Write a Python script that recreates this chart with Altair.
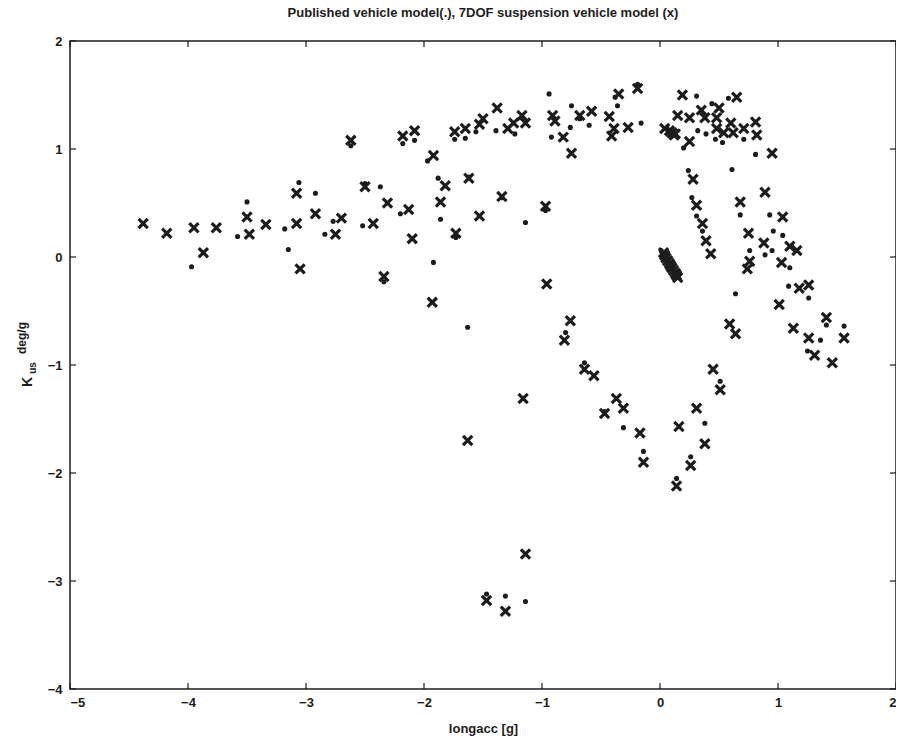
import altair as alt
import pandas as pd

# Published vehicle model (dots)
dot_x = [-3.97, -3.50, -3.58, -3.18, -3.15, -3.06, -2.92, -2.62, -2.18, -2.08, -1.74, -1.65,
         -1.56, -1.97, -2.50, -2.37, -1.88, -1.62, -1.86, -2.20, -2.77, -2.84, -2.52, -1.73,
         -2.34, -1.92, -1.39, -1.23, -0.94, -0.92, -0.76, -0.75, -0.60, -0.68, -0.36, -0.38,
         -0.19, -0.16, -1.34, -0.97, -1.14, 0.31, 0.58, 0.44, 0.32, 0.39, 0.47, 0.53, 0.71,
         0.20, 0.81, 0.06, 0.11, 0.24, 0.61, 0.27, 0.31, 0.68, 0.93, 0.36, 0.96, 1.04, 0.76,
         0.95, 0.89, 1.10, 1.09, 1.26, 0.64, 1.41, 1.56, 1.36, 1.25, -1.63, -0.80, -0.64,
         -0.31, -0.14, 0.14, 0.26, 0.38, 0.51, -1.47, -1.31, -1.14, 0.01, 0.03, 0.06, 0.08,
         0.11, 0.14, -0.47, 0.02, 0.045, 0.07, 0.095, 0.12]
dot_y = [-0.09, 0.51, 0.19, 0.26, 0.07, 0.69, 0.59, 1.03, 1.05, 1.08, 1.09, 1.10,
         1.16, 0.89, 0.68, 0.65, 0.73, 0.74, 0.35, 0.40, 0.33, 0.21, 0.29, 0.18,
         -0.23, -0.05, 1.17, 1.14, 1.51, 1.11, 1.20, 1.40, 1.22, 1.28, 1.40, 1.48,
         1.60, 1.24, 0.55, 0.43, 0.32, 1.49, 1.47, 1.42, 1.17, 1.14, 1.09, 1.06, 1.09,
         1.01, 0.95, 1.19, 1.13, 0.80, 0.81, 0.55, 0.38, 0.39, 0.39, 0.24, 0.24, 0.20, 0.06,
         0.06, 0.02, -0.10, -0.27, -0.38, -0.34, -0.63, -0.64, -0.77, -0.87, -0.65, -0.70, -0.98,
         -1.58, -1.80, -2.05, -1.85, -1.54, -1.15, -3.12, -3.14, -3.19, 0.06, 0.01, -0.04, -0.08,
         -0.13, -0.17, -1.43, 0.035, -0.015, -0.06, -0.105, -0.15]

# 7DOF suspension vehicle model (x markers)
cross_x = [-4.38, -4.18, -3.95, -3.87, -3.76, -3.50, -3.48, -3.34, -3.08, -3.08, -3.05, -2.92,
           -2.75, -2.70, -2.62, -2.50, -2.43, -2.31, -2.34, -2.18, -2.08, -2.13, -2.10, -1.92,
           -1.93, -1.82, -1.86, -1.74, -1.65, -1.53, -1.50, -1.62, -1.73, -1.53, -1.38, -1.29,
           -1.24, -1.17, -1.14, -1.34, -0.97, -0.96, -0.91, -0.89, -0.82, -0.75, -0.68, -0.58,
           -0.43, -0.39, -0.41, -0.35, -0.19, -0.27, 0.08, 0.04, 0.13, 0.15, 0.19, 0.25, 0.35,
           0.38, 0.50, 0.48, 0.48, 0.65, 0.60, 0.62, 0.54, 0.71, 0.81, 0.82, 0.25, 0.95, 0.28,
           0.89, 0.31, 0.68, 0.36, 1.04, 0.39, 0.75, 0.88, 1.10, 1.16, 0.43, 0.76, 0.74, 1.03,
           1.18, 1.26, 1.01, 1.41, 1.13, 1.26, 1.56, 1.31, 1.46, 0.59, 0.64, -0.76, -0.81,
           -0.64, -0.56, -0.37, -0.31, -0.47, -0.17, -0.14, 0.14, 0.16, 0.26, 0.31, 0.38, 0.45,
           0.51, -1.16, -1.63, -1.14, -1.47, -1.31, 0.03, 0.05, 0.08, 0.10, 0.13, 0.15,
           0.04, 0.065, 0.09, 0.115, 0.14, 0.10, 0.12]
cross_y = [0.31, 0.22, 0.27, 0.04, 0.27, 0.37, 0.21, 0.30, 0.31, 0.59, -0.11, 0.40,
           0.21, 0.36, 1.08, 0.65, 0.31, 0.50, -0.18, 1.12, 1.17, 0.44, 0.17, 0.94,
           -0.42, 0.66, 0.51, 1.16, 1.19, 1.23, 1.28, 0.73, 0.22, 0.38, 1.38, 1.19,
           1.24, 1.31, 1.24, 0.56, 0.47, -0.25, 1.31, 1.26, 1.11, 0.96, 1.31, 1.35,
           1.30, 1.19, 1.12, 1.51, 1.56, 1.20, 1.17, 1.19, 1.14, 1.31, 1.50, 1.29, 1.36,
           1.29, 1.38, 1.29, 1.19, 1.48, 1.24, 1.15, 1.15, 1.19, 1.25, 1.13, 1.07, 0.96, 0.72,
           0.60, 0.48, 0.51, 0.31, 0.37, 0.15, 0.22, 0.13, 0.10, 0.06, 0.03, -0.04, -0.11, -0.05,
           -0.29, -0.26, -0.44, -0.56, -0.66, -0.75, -0.75, -0.91, -0.98, -0.62, -0.71, -0.59, -0.77,
           -1.04, -1.10, -1.31, -1.40, -1.45, -1.63, -1.90, -2.12, -1.57, -1.93, -1.40, -1.73, -1.04,
           -1.23, -1.31, -1.70, -2.75, -3.18, -3.28, 0.04, -0.01, -0.06, -0.10, -0.15, -0.19,
           0.015, -0.035, -0.08, -0.125, -0.17, 1.15, 1.13]

x_ticks = [-5, -4, -3, -2, -1, 0, 1, 2]
y_ticks = [-4, -3, -2, -1, 0, 1, 2]

W, H = 826, 648
INK = "#1c1c1c"
FONT = "Liberation Sans"

dots = pd.DataFrame({"x": dot_x, "y": dot_y})
crosses = pd.DataFrame({"x": cross_x, "y": cross_y})
xt = pd.DataFrame({"v": x_ticks})
yt = pd.DataFrame({"v": y_ticks})

xs = alt.Scale(domain=[-5, 2], nice=False, zero=False)
ys = alt.Scale(domain=[-4, 2], nice=False, zero=False)

x_axis = alt.Axis(values=x_ticks, format="d", ticks=False, grid=False, domain=False,
                  labelFont=FONT, labelFontSize=13, labelFontWeight="bold",
                  labelColor=INK, labelPadding=7, title="longacc [g]",
                  titleFont=FONT, titleFontSize=13, titleFontWeight="bold",
                  titleColor=INK, titlePadding=13)
y_axis = alt.Axis(values=y_ticks, format="d", ticks=False, grid=False, domain=False,
                  labelFont=FONT, labelFontSize=13, labelFontWeight="bold",
                  labelColor=INK, labelPadding=8, title=None)

base_dots = alt.Chart(dots).mark_circle(size=26, color=INK, opacity=1).encode(
    x=alt.X("x:Q", scale=xs, axis=x_axis),
    y=alt.Y("y:Q", scale=ys, axis=y_axis),
)

cross_layer = alt.Chart(crosses).mark_point(
    shape="M-1,-1L1,1M1,-1L-1,1", filled=False, size=85, strokeWidth=3.2,
    color=INK, opacity=1
).encode(x=alt.X("x:Q", scale=xs), y=alt.Y("y:Q", scale=ys))

tick_style = dict(color=INK, strokeWidth=1.2)
bottom_t = alt.Chart(xt).mark_rule(**tick_style).encode(
    x=alt.X("v:Q", scale=xs), y=alt.value(H), y2=alt.value(H - 6))
top_t = alt.Chart(xt).mark_rule(**tick_style).encode(
    x=alt.X("v:Q", scale=xs), y=alt.value(0), y2=alt.value(6))
left_t = alt.Chart(yt).mark_rule(**tick_style).encode(
    y=alt.Y("v:Q", scale=ys), x=alt.value(0), x2=alt.value(6))
right_t = alt.Chart(yt).mark_rule(**tick_style).encode(
    y=alt.Y("v:Q", scale=ys), x=alt.value(W - 6), x2=alt.value(W))

ytitle_df = pd.DataFrame({"t": ["K", "us", "deg/g"], "fs": [14, 10, 12],
                          "px": [-42, -37, -48], "py": [H / 2 + 17, H / 2 + 3, H / 2 - 27]})
ytitle = alt.Chart(ytitle_df).mark_text(
    angle=270, font=FONT, fontWeight="bold", color=INK, align="center", baseline="middle"
).encode(text="t:N", x=alt.X("px:Q", scale=None), y=alt.Y("py:Q", scale=None),
         size=alt.Size("fs:Q", scale=None, legend=None))

chart = alt.layer(base_dots, cross_layer, bottom_t, top_t, left_t, right_t, ytitle).properties(
    width=W, height=H,
    title=alt.TitleParams("Published vehicle model(.), 7DOF suspension vehicle model (x)",
                          font=FONT, fontSize=13, fontWeight="bold", color=INK,
                          anchor="middle", offset=15),
    autosize=alt.AutoSizeParams(type="none"),
    padding={"left": 70, "top": 41, "right": 0, "bottom": 50},
    background="white",
).configure_view(stroke=INK, strokeWidth=1.5)

chart.save("out.html", embed_options={"renderer": "svg", "actions": False})
